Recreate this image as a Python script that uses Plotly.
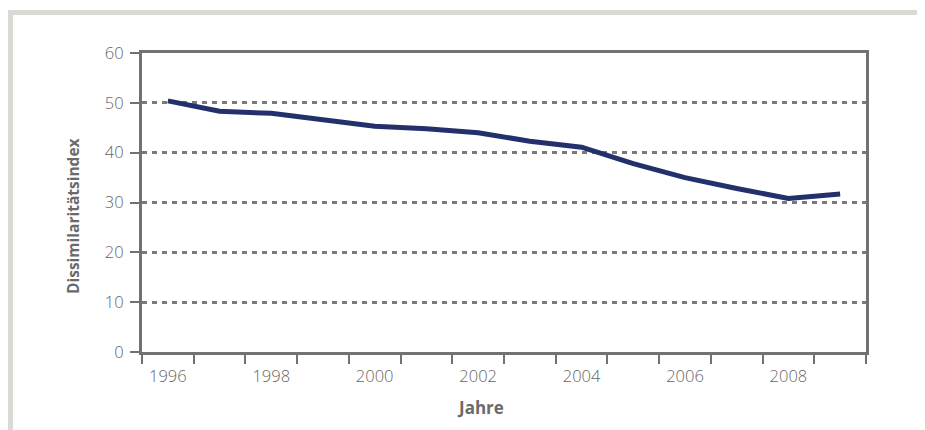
import plotly.graph_objects as go

years = [1996, 1997, 1998, 1999, 2000, 2001, 2002, 2003, 2004, 2005, 2006, 2007, 2008, 2009]
index_values = [50.4, 48.3, 47.9, 46.6, 45.3, 44.8, 44.0, 42.3, 41.1, 37.8, 35.0, 32.8, 30.8, 31.7]
y_ticks = [0, 10, 20, 30, 40, 50, 60]
x_labels = [str(y) if y % 2 == 0 else "" for y in years]

# page body has an 8px margin, so the figure sits at (8, 8) in the window
OFF = 8
W, H = 925 - OFF, 430 - OFF
L, R, T, B = 142 - OFF, 59, 53 - OFF, 78

FONT = "Open Sans, Noto Sans, sans-serif"
GRAY = "#666666"
AXIS = "#727272"

cats = [str(y) for y in years]

fig = go.Figure()
fig.add_trace(go.Scatter(
    x=cats, y=index_values, mode="lines",
    line=dict(color="#23306c", width=5), hoverinfo="skip", showlegend=False,
))

fig.update_layout(
    width=W, height=H, autosize=False,
    margin=dict(l=L, r=R, t=T, b=B, pad=0),
    paper_bgcolor="white", plot_bgcolor="white",
    font=dict(family=FONT, color=GRAY, size=16),
    xaxis=dict(
        type="category", tickson="boundaries",
        range=[-0.5, len(cats) - 0.5],
        tickmode="array", tickvals=cats, ticktext=x_labels,
        tickangle=0, automargin=False, ticklabelstandoff=7,
        ticks="outside", ticklen=9, tickwidth=2, tickcolor=AXIS,
        showline=True, linecolor=AXIS, linewidth=3, mirror=True,
        showgrid=False, zeroline=False,
        tickfont=dict(family=FONT, size=16.5, color=GRAY, weight=300),
        fixedrange=True,
    ),
    yaxis=dict(
        range=[0, 60], tickmode="array", tickvals=y_ticks, automargin=False,
        ticklabelstandoff=3,
        ticks="outside", ticklen=9, tickwidth=2, tickcolor=AXIS,
        showline=True, linecolor=AXIS, linewidth=3, mirror=True,
        showgrid=True, gridcolor="#7a7a7a", gridwidth=2.5, griddash="5px,5px",
        zeroline=False,
        tickfont=dict(family=FONT, size=16.5, color=GRAY, weight=300),
        fixedrange=True,
    ),
)

pw, ph = W - L - R, H - T - B

def px_x(px):
    return (px - OFF - L) / pw

def px_y(py):
    return (H - B - (py - OFF)) / ph

frame = "#dadad5"
fig.add_shape(type="rect", xref="paper", yref="paper",
              x0=px_x(8), x1=px_x(925), y0=px_y(15), y1=px_y(10),
              line=dict(width=0), fillcolor=frame, layer="below")
fig.add_shape(type="rect", xref="paper", yref="paper",
              x0=px_x(8), x1=px_x(13), y0=px_y(430), y1=px_y(10),
              line=dict(width=0), fillcolor=frame, layer="below")

fig.add_annotation(text="<b>Jahre</b>", xref="paper", yref="paper",
                   x=px_x(480), y=px_y(408), xanchor="center", yanchor="middle",
                   showarrow=False,
                   font=dict(family=FONT, size=17, color="#6a6a6a"))
fig.add_annotation(text="<b>Dissimilaritätsindex</b>", xref="paper", yref="paper",
                   x=px_x(73), y=px_y(216), xanchor="center", yanchor="middle",
                   showarrow=False, textangle=-90,
                   font=dict(family=FONT, size=15.5, color="#6a6a6a"))

fig.write_html("out.html", config={"displayModeBar": False})
